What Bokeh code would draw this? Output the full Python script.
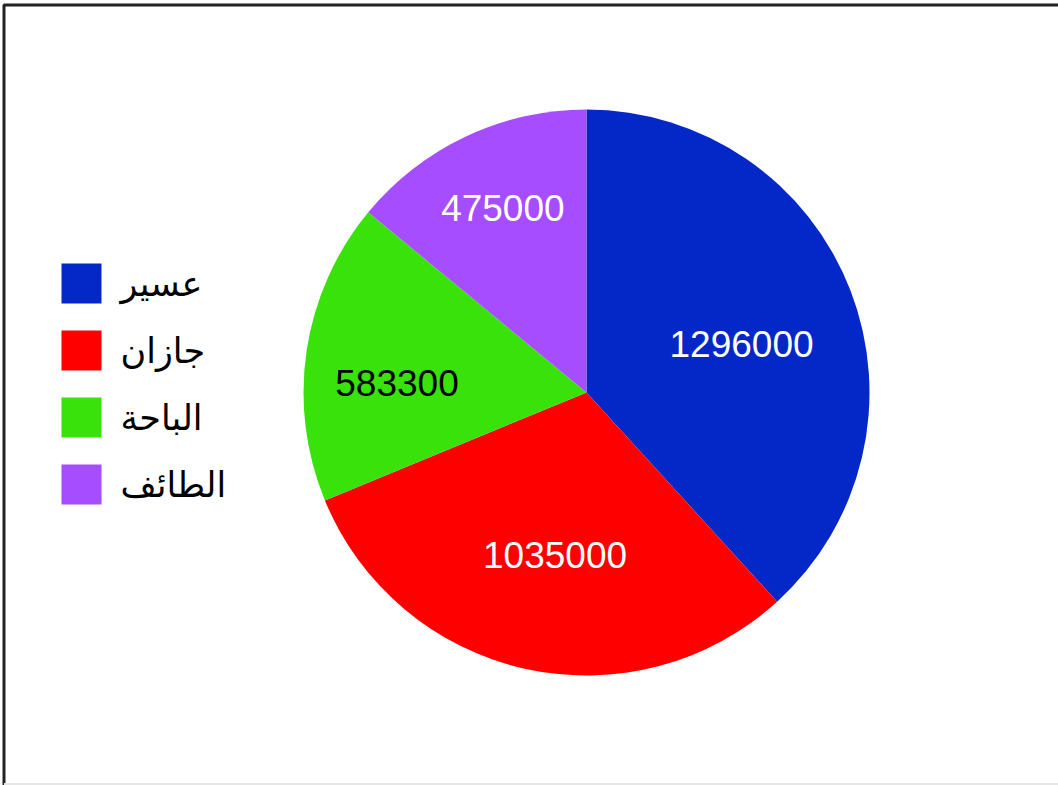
import math
from bokeh.plotting import figure
from bokeh.models import Range1d, ColumnDataSource
from bokeh.core.properties import value
from bokeh.embed import file_html
from bokeh.resources import INLINE

# ---- data ----
regions = ["عسير", "جازان", "الباحة", "الطائف"]
populations = [1296000, 1035000, 583300, 475000]
colors = ["#0428C8", "#FF0000", "#38E20A", "#A64DFF"]
label_colors = ["white", "white", "black", "white"]

# ---- layout (data units = page pixels, y measured upward) ----
W, H = 1058, 785
CX, CY, R = 586, H - 392, 283          # pie centre / radius
label_frac = [0.58, 0.59, 0.67, 0.71]  # label distance as a fraction of R
label_dx = [2, 5, -2, 2]               # small horizontal nudges (px)
label_dy = [-11, 0, -19, 3]            # small vertical nudges (px)

p = figure(width=W, height=H, output_backend="svg", toolbar_location=None,
           x_range=Range1d(0, W), y_range=Range1d(0, H),
           min_border=0, border_fill_color="white", background_fill_color="white")
p.axis.visible = False
p.grid.visible = False
p.outline_line_color = None

total = float(sum(populations))
starts, ends, lx, ly = [], [], [], []
cum = 0.0
for v, f, dx, dy in zip(populations, label_frac, label_dx, label_dy):
    a0 = cum / total * 2 * math.pi
    cum += v
    a1 = cum / total * 2 * math.pi
    starts.append(math.pi / 2 - a0)
    ends.append(math.pi / 2 - a1)
    mid = (a0 + a1) / 2
    lx.append(CX + f * R * math.sin(mid) + dx)
    ly.append(CY + f * R * math.cos(mid) + dy)

src = ColumnDataSource(dict(start=starts, end=ends, color=colors,
                            lx=lx, ly=ly, txt=[str(v) for v in populations],
                            tc=label_colors))
p.wedge(x=CX, y=CY, radius=R, start_angle="start", end_angle="end",
        direction="clock", fill_color="color", line_color=None, source=src)
p.text(x="lx", y="ly", text="txt", text_color="tc", source=src,
       text_font=value("Liberation Sans"), text_font_size="37px",
       text_align="center", text_baseline="middle")

# legend drawn by hand
leg_x, leg_top, leg_step, box = 81, H - 283, 67, 40
ys = [leg_top - i * leg_step for i in range(len(regions))]
p.rect(x=[leg_x] * len(regions), y=ys, width=box, height=box,
       fill_color=colors, line_color=None)
p.text(x=[leg_x + 39] * len(regions), y=ys, text=regions,
       text_font=value("DejaVu Sans"), text_font_size="35px",
       text_align="left", text_baseline="middle", text_color="black")

# frame lines (top and left dark, bottom light)
p.line(x=[3.5, 3.5, W], y=[0, H - 4.5, H - 4.5], line_color="#222222", line_width=3)
p.line(x=[3.5, W], y=[1.5, 1.5], line_color="#e6e6e6", line_width=2)

open("out.html", "w").write(file_html(p, INLINE))
